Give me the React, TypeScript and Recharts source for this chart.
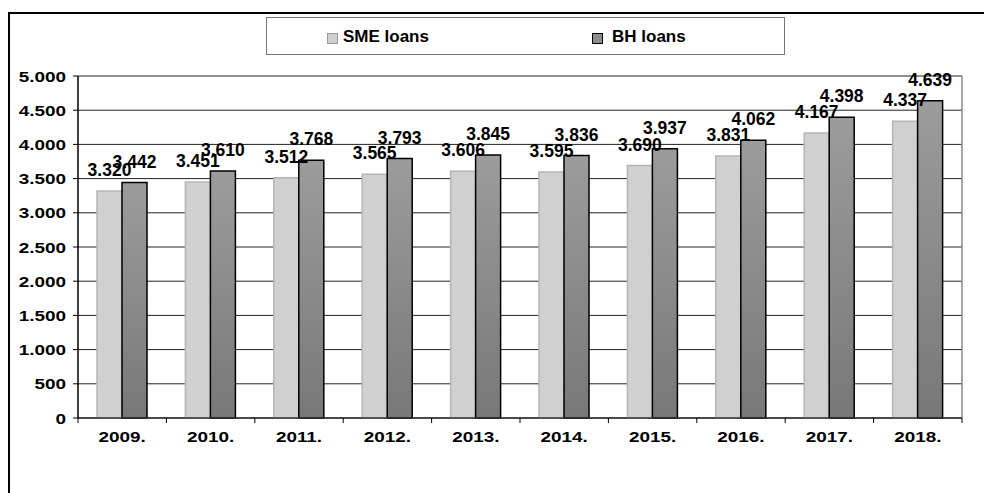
import React from "react";
import { BarChart, Bar, XAxis, YAxis, CartesianGrid, LabelList } from "recharts";

const years = ["2009.", "2010.", "2011.", "2012.", "2013.", "2014.", "2015.", "2016.", "2017.", "2018."];
const smeLoans = [3320, 3451, 3512, 3565, 3606, 3595, 3690, 3831, 4167, 4337];
const bhLoans = [3442, 3610, 3768, 3793, 3845, 3836, 3937, 4062, 4398, 4639];
const yTicks = [0, 500, 1000, 1500, 2000, 2500, 3000, 3500, 4000, 4500, 5000];

const data = years.map((y, i) => ({ year: y, sme: smeLoans[i], bh: bhLoans[i] }));

const W = 984;
const H = 493;
const M = { top: 76, right: 22, bottom: 45, left: 0 };
const Y_W = 78;
const X_H = 30;
const PLOT_W = W - M.left - M.right - Y_W;
const BAND = PLOT_W / years.length;
const FONT = "'Liberation Sans', Arial, sans-serif";

const fmt = (v: number) => String(v).replace(/\B(?=(\d{3})+(?!\d))/g, ".");

const YTick = (props: any) => {
  const { x, y, payload } = props;
  return (
    <text
      x={0}
      y={0}
      transform={`translate(${x} ${y + 5.5}) scale(1.22 1)`}
      textAnchor="end"
      fontSize={15.5}
      fontWeight="bold"
      fontFamily={FONT}
      fill="#000"
    >
      {fmt(payload.value)}
    </text>
  );
};

const XTick = (props: any) => {
  const { x, y, payload, index } = props;
  const last = index === years.length - 1;
  return (
    <g>
      <line x1={x - BAND / 2} x2={x - BAND / 2} y1={y} y2={y + 5} stroke="#000" strokeWidth={1} />
      {last && <line x1={x + BAND / 2} x2={x + BAND / 2} y1={y} y2={y + 5} stroke="#000" strokeWidth={1} />}
      <text
        x={0}
        y={0}
        transform={`translate(${x} ${y + 24}) scale(1.22 1)`}
        textAnchor="middle"
        fontSize={15.5}
        fontWeight="bold"
        fontFamily={FONT}
        fill="#000"
      >
        {payload.value}
      </text>
    </g>
  );
};

const LegendBox = () => (
  <div
    style={{
      position: "absolute",
      left: 266,
      top: 17,
      width: 517,
      height: 36,
      border: "1px solid #777",
      background: "#fff",
      fontFamily: FONT,
      fontWeight: "bold",
      fontSize: 17,
      color: "#000",
    }}
  >
    <div style={{ position: "absolute", left: 60, top: 15, width: 9, height: 9, background: "#cfcfcf", border: "1px solid #999" }} />
    <div style={{ position: "absolute", left: 76, top: 9, lineHeight: "20px", whiteSpace: "nowrap" }}>SME loans</div>
    <div style={{ position: "absolute", left: 325, top: 15, width: 9, height: 9, background: "#8c8c8c", border: "1px solid #000" }} />
    <div style={{ position: "absolute", left: 345, top: 9, lineHeight: "20px", whiteSpace: "nowrap" }}>BH loans</div>
  </div>
);

export default function App() {
  return (
    <div style={{ position: "fixed", left: 0, top: 0, width: W, height: H, overflow: "hidden", background: "#fff" }}>
      <div
        style={{
          position: "absolute",
          left: 8,
          top: 12,
          width: 2000,
          height: 2000,
          borderTop: "2px solid #000",
          borderLeft: "2px solid #000",
          boxSizing: "border-box",
        }}
      />
      <div style={{ position: "absolute", left: 0, top: 0 }}>
        <BarChart width={W} height={H} data={data} margin={M} barCategoryGap="21.5%" barGap={0}>
          <defs>
            <linearGradient id="bhGrad" x1="0" y1="0" x2="0" y2="1">
              <stop offset="0%" stopColor="#9c9c9c" />
              <stop offset="100%" stopColor="#787878" />
            </linearGradient>
          </defs>
          <CartesianGrid vertical={false} stroke="#222" strokeWidth={1} />
          <CartesianGrid horizontal={false} verticalPoints={[W - M.right]} stroke="#888" strokeWidth={1.5} />
          <XAxis
            dataKey="year"
            height={X_H}
            axisLine={{ stroke: "#333", strokeWidth: 1.5 }}
            tickLine={false}
            tickSize={0}
            tickMargin={0}
            interval={0}
            tick={<XTick />}
          />
          <YAxis
            width={Y_W}
            domain={[0, 5000]}
            ticks={yTicks}
            interval={0}
            axisLine={{ stroke: "#000", strokeWidth: 1.5 }}
            tickLine={{ stroke: "#000" }}
            tickSize={5}
            tickMargin={7}
            tick={<YTick />}
          />
          <Bar dataKey="sme" name="SME loans" fill="#d0d0d0" stroke="#b4b4b4" strokeWidth={1.5} isAnimationActive={false}>
            <LabelList
              dataKey="sme"
              position="top"
              offset={15}
              formatter={(v: any) => fmt(Number(v))}
              style={{ fontFamily: FONT, fontWeight: "bold", fontSize: 17.5, fill: "#000" }}
            />
          </Bar>
          <Bar dataKey="bh" name="BH loans" fill="url(#bhGrad)" stroke="#000" strokeWidth={1.5} isAnimationActive={false}>
            <LabelList
              dataKey="bh"
              position="top"
              offset={15}
              formatter={(v: any) => fmt(Number(v))}
              style={{ fontFamily: FONT, fontWeight: "bold", fontSize: 17.5, fill: "#000" }}
            />
          </Bar>
        </BarChart>
      </div>
      <LegendBox />
    </div>
  );
}
